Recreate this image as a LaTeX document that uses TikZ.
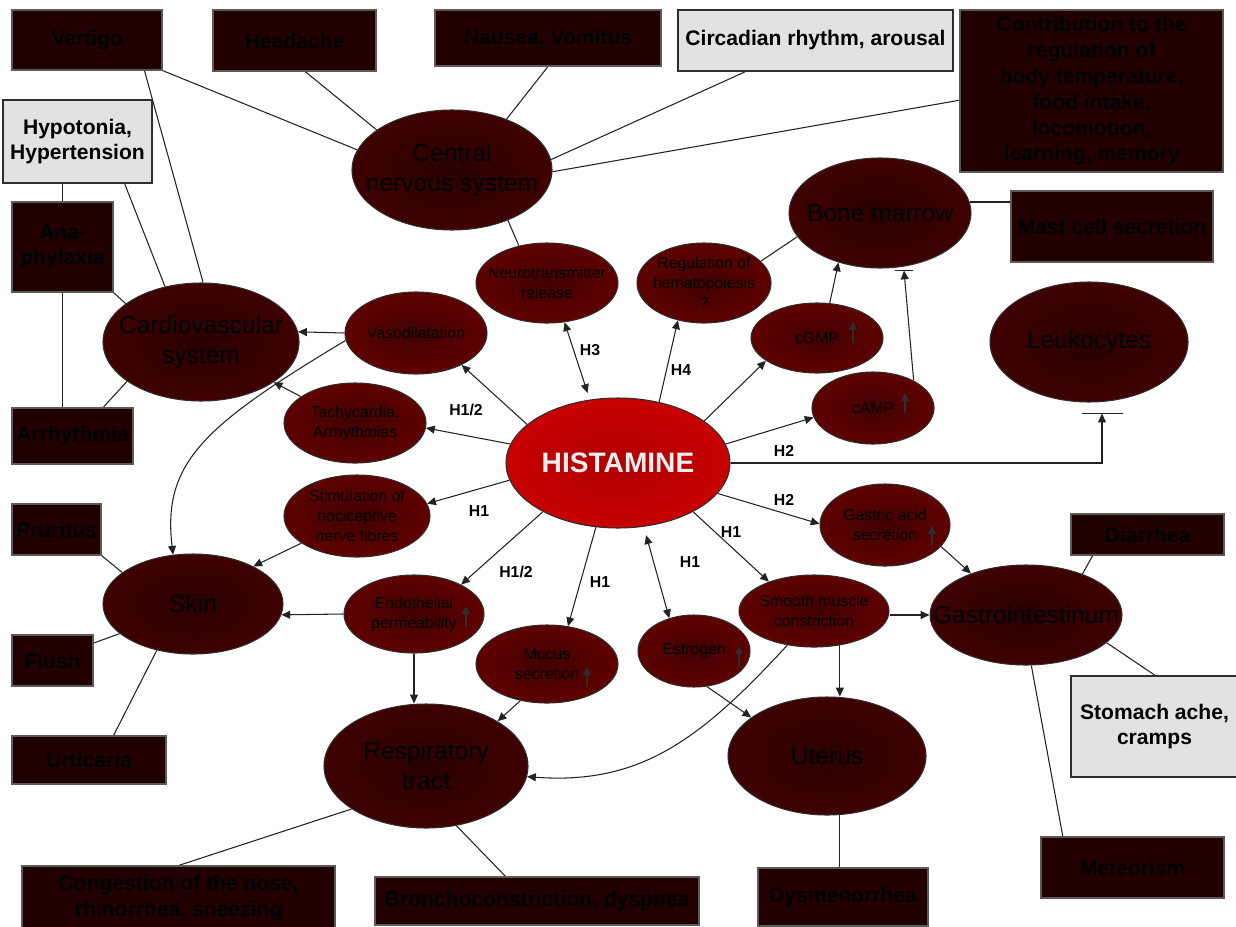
\documentclass[tikz,border=0pt]{standalone}
\usepackage{fontspec}
\setmainfont{Liberation Sans}
\usetikzlibrary{shapes.geometric,arrows.meta,calc}
\definecolor{bigin}{HTML}{2A0000}
\definecolor{bigout}{HTML}{540000}
\definecolor{medin}{HTML}{420000}
\definecolor{medout}{HTML}{7C0000}
\definecolor{hisin}{HTML}{B00000}
\definecolor{hisout}{HTML}{DE0000}
\definecolor{boxdark}{HTML}{220000}
\definecolor{boxtext}{HTML}{000000}
\definecolor{boxedge}{HTML}{5A5A5A}
\definecolor{boxlight}{HTML}{E1E2E4}
\definecolor{edgec}{HTML}{2E2E2E}
\definecolor{linec}{HTML}{222222}
\definecolor{hiscol}{HTML}{EEEEEE}
\pgfdeclareradialshading{bigshade}{\pgfpoint{0bp}{0bp}}{color(0bp)=(bigin); color(50bp)=(bigout)}
\pgfdeclareradialshading{medshade}{\pgfpoint{0bp}{0bp}}{color(0bp)=(medin); color(50bp)=(medout)}
\pgfdeclareradialshading{hisshade}{\pgfpoint{0bp}{0bp}}{color(0bp)=(hisin); color(50bp)=(hisout)}
\pgfdeclarelayer{bg}
\pgfsetlayers{bg,main}
\tikzset{
  sz/.style 2 args={minimum width=#1*0.02cm, minimum height=#2*0.02cm},
  bigtxt/.style={font=\fontsize{14}{17}\selectfont, align=center, text=black, inner sep=0pt},
  medtxt/.style={font=\fontsize{9}{11.3}\selectfont, align=center, text=black, inner sep=0pt},
  histxt/.style={font=\bfseries\fontsize{16}{19}\selectfont, text=hiscol, inner sep=0pt},
  bigE/.style={ellipse, draw=edgec, line width=0.6pt, shade, shading=bigshade, inner sep=0pt, label={[bigtxt]center:#1}},
  medE/.style={ellipse, draw=edgec, line width=0.6pt, shade, shading=medshade, inner sep=0pt, label={[medtxt]center:#1}},
  darkbox/.style={rectangle, draw=boxedge, line width=0.6pt, fill=boxdark, inner sep=0pt, font=\bfseries\fontsize{12}{14.7}\selectfont, text=boxtext, align=center},
  lightbox/.style={rectangle, draw=edgec, line width=1.2pt, fill=boxlight, inner sep=0pt, font=\bfseries\fontsize{12}{14.4}\selectfont, text=black, align=center},
  hlab/.style={font=\bfseries\fontsize{9}{11}\selectfont, inner sep=0pt, text=black},
  con/.style={draw=linec, line width=0.6pt},
  arr/.style={con, -{Triangle[length=5pt,width=4.5pt]}},
  darr/.style={con, {Triangle[length=5pt,width=4.5pt]}-{Triangle[length=5pt,width=4.5pt]}},
  upg/.style={draw=edgec, line width=0.8pt, -{Triangle[length=4.5pt,width=4.5pt]}}
}
\begin{document}
\begin{tikzpicture}[x=0.02cm,y=-0.02cm]
\useasboundingbox (0,0) rectangle (1236,926);
% boxes
\node[darkbox, sz={150}{60}] (vertigo) at (87,40) {Vertigo};
\node[darkbox, sz={163}{61}] (headache) at (294.5,40.5) {Headache};
\node[darkbox, sz={226}{56}] (nausea) at (548,38) {Nausea, Vomitus};
\node[lightbox, sz={275}{61}] (circ) at (815.5,40.5) {Circadian rhythm, arousal};
\node[darkbox, sz={263}{162}] (contrib) at (1091.5,91) {Contribution to the\\regulation of\\body temperature,\\food intake,\\locomotion,\\learning, memory};
\node[lightbox, sz={149}{83}] (hypo) at (77.5,141.5) {Hypotonia,\\Hypertension};
\node[darkbox, sz={101}{90}] (ana) at (62.5,247) {Ana-\\phylaxia};
\node[darkbox, sz={121}{56}] (arr) at (72.5,436) {Arrhythmia};
\node[darkbox, sz={202}{71}] (mast) at (1112,226.5) {Mast cell secretion};
\node[darkbox, sz={89}{51}] (prur) at (56.5,529.5) {Pruritus};
\node[darkbox, sz={81}{51}] (flush) at (52.5,660.5) {Flush};
\node[darkbox, sz={154}{48}] (urt) at (89,760) {Urticaria};
\node[darkbox, sz={313}{64}] (cong) at (178.5,898) {Congestion of the nose,\\rhinorrhea, sneezing};
\node[darkbox, sz={324}{48}] (bron) at (537,901) {Bronchoconstriction, dyspnea};
\node[darkbox, sz={170}{58}] (dysm) at (843,897) {Dysmenorrhea};
\node[darkbox, sz={153}{41}] (diar) at (1147.5,534.5) {Diarrhea};
\node[lightbox, sz={167}{101}] (stom) at (1154.5,726.5) {Stomach ache,\\cramps};
\node[darkbox, sz={183}{61}] (met) at (1132.5,867.5) {Meteorism};
% big ellipses
\node[bigE={Central\\nervous system}, sz={200}{120}] (cns) at (452,170) {};
\node[bigE={Cardiovascular\\system}, sz={196}{118}] (cardio) at (201,342) {};
\node[bigE={Skin}, sz={180}{100}] (skin) at (193,604) {};
\node[bigE={Respiratory\\tract}, sz={204}{124}] (resp) at (426,766) {};
\node[bigE={Uterus}, sz={198}{118}] (uterus) at (827,756) {};
\node[bigE={Gastrointestinum}, sz={192}{100}] (gastro) at (1026,615) {};
\node[bigE={Bone marrow}, sz={182}{110}] (bone) at (880,213) {};
\node[bigE={Leukocytes}, sz={198}{120}] (leuko) at (1089,342) {};
% histamine
\node[ellipse, draw=edgec, line width=0.6pt, shade, shading=hisshade, inner sep=0pt, sz={224}{130}, label={[histxt]center:HISTAMINE}] (hist) at (618,463) {};
% medium ellipses
\node[medE={Neurotransmitter\\release}, sz={142}{80}] (neuro) at (547,283) {};
\node[medE={Regulation of\\hematopoiesis\\?}, sz={134}{80}] (hema) at (704,283) {};
\node[medE={Vasodilatation}, sz={142}{82}] (vaso) at (416,333) {};
\node[medE={Tachycardia,\\Arrhythmias}, sz={142}{80}] (tachy) at (355,423) {};
\node[medE={cGMP}, sz={132}{70}] (cgmp) at (817,338) {};
\node[medE={cAMP}, sz={122}{72}] (camp) at (873,408) {};
\node[medE={Gastric acid\\secretion}, sz={130}{82}] (gastric) at (885,525) {};
\node[medE={Stimulation of\\nociceptive\\nerve fibres}, sz={146}{82}] (stim) at (357,516) {};
\node[medE={Endothelial\\permeability}, sz={140}{78}] (endo) at (414,614) {};
\node[medE={Mucus\\secretion}, sz={142}{78}] (mucus) at (547,664) {};
\node[medE={Estrogen}, sz={112}{72}] (estrogen) at (694,651) {};
\node[medE={Smooth muscle\\constriction}, sz={150}{72}] (smooth) at (814,611) {};
% up-arrow glyphs
\draw[upg] ($(cgmp)+(36,5)$) -- ++(0,-21);
\draw[upg] ($(camp)+(32,5)$) -- ++(0,-20);
\draw[upg] ($(gastric)+(47,20)$) -- ++(0,-19);
\draw[upg] ($(endo)+(52,13)$) -- ++(0,-21);
\draw[upg] ($(mucus)+(40,23)$) -- ++(0,-20);
\draw[upg] ($(estrogen)+(45,16)$) -- ++(0,-21);
% receptor labels
\node[hlab] (lh3) at (590,350) {H3};
\node[hlab] (lh4) at (681,370) {H4};
\node[hlab] (lh12a) at (466,410) {H1/2};
\node[hlab] (lh2a) at (784,451) {H2};
\node[hlab] (lh2b) at (784,500) {H2};
\node[hlab] (lh1a) at (479,511) {H1};
\node[hlab] (lh12b) at (516,572) {H1/2};
\node[hlab] (lh1b) at (600,582) {H1};
\node[hlab] (lh1c) at (690,562) {H1};
\node[hlab] (lh1d) at (731,532) {H1};
\coordinate (lbar) at ($(leuko.south)+(13,11)$);
\coordinate (bbar) at ($(bone.south)+(24,2)$);
\begin{pgfonlayer}{bg}
% CNS
\draw[con] (vertigo.south east) -- (cns.168);
\draw[con] (headache.-71) -- (cns.152.5);
\draw[con] (nausea.south) -- (cns.43);
\draw[con] (circ.-156) -- (cns.6);
\draw[con] (contrib.-176) -- (cns.-1);
\draw[con] (cns.-42) -- (neuro.127);
% cardio
\draw[con] (vertigo.-28) -- (cardio.88);
\draw[con] (hypo.-42.4) -- (cardio.123);
\draw[con] (hypo.south -| ana.center) -- (arr.north -| ana.center);
\draw[con] (ana.south east) -- (cardio.153);
\draw[con] (arr.43) -- (cardio.208);
\draw[arr] (vaso.west) -- (cardio.6);
\draw[arr] (tachy.154) -- (cardio.-29);
% histamine
\draw[arr] (hist.157) -- (vaso.-35);
\draw[arr] (hist.170) -- (tachy.-4);
\draw[darr, shorten <=4pt] (hist.114) -- (neuro.-66);
\draw[arr] (hist.56.5) -- (hema.235);
\draw[arr] (hist.26.6) -- (cgmp.204);
\draw[arr] (hist.10) -- (camp.189);
\draw[arr] (hist.east) -| (lbar);
\draw[con] ($(lbar)+(-20,0)$) -- ($(lbar)+(21,0)$);
\draw[arr] (hist.-17) -- (gastric.179);
\draw[arr] (hist.-33) -- (smooth.147);
\draw[darr, shorten <=5pt] (hist.-68) -- (estrogen.127);
\draw[arr] (hist.251) -- (mucus.61.7);
\draw[arr] (hist.213.7) -- (endo.32);
\draw[arr] (hist.189) -- (stim.10);
% bone marrow
\draw[arr] (cgmp.70) -- (bone.230);
\draw[arr] (camp.34) -- (bbar);
\draw[con] ($(bbar)+(-9,0)$) -- ($(bbar)+(9,0)$);
\draw[con] (hema.21.6) -- (bone.196);
\draw[con] (bone.7) -- (bone.7 -| mast.west);
% skin
\draw[arr] (stim.206) -- (skin.32.4);
\draw[arr] (endo.west) -- (skin.-7);
\draw[con] (prur.south east) -- (skin.156);
\draw[con] (flush.23.4) -- (skin.202);
\draw[con] (urt.45) -- (skin.232);
% respiratory
\draw[arr] (endo.south) -- (endo.south |- resp.north);
\draw[arr] (mucus.234.5) -- (resp.32);
\draw[con] (cong.north) -- (resp.210);
\draw[con] (bron.142) -- (resp.-63);
% uterus
\draw[arr] (estrogen.-70) -- (uterus.153);
\draw[arr] (smooth.-53.6) -- (smooth.-53.6 |- uterus.north);
\draw[con] (uterus.-78) -- (uterus.-78 |- dysm.north);
% gastro
\draw[arr] (gastric.-21) -- (gastro.143);
\draw[arr] (gastro.west -| smooth.east) -- (gastro.west);
\draw[con] (diar.-159.7) -- (gastro.36.9);
\draw[con] (gastro.-19.8) -- (stom.north);
\draw[con] (gastro.-84) -- (met.156.6);
\end{pgfonlayer}
% curves
\draw[arr] (vaso.186) .. controls (205,425) and (162,462) .. (skin.112);
\draw[arr] (smooth.232) .. controls (700,740) and (640,785) .. (resp.-6);
\end{tikzpicture}
\end{document}
